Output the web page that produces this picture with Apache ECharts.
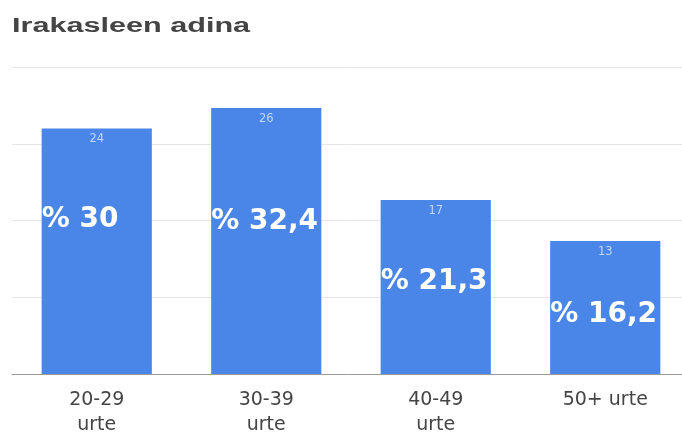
<!DOCTYPE html>
<html>
<head>
<meta charset="utf-8">
<script src="https://cdn.jsdelivr.net/npm/echarts@6/dist/echarts.min.js"></script>
<style>
  html, body { margin: 0; padding: 0; background: #ffffff; }
  #chart { width: 682px; height: 435px; }
</style>
</head>
<body>
<div id="chart"></div>
<script>
// Teacher age groups: head counts and their share of the total
const chartTitle = 'Irakasleen adina';
const ageGroups = ['20-29\nurte', '30-39\nurte', '40-49\nurte', '50+ urte'];
const teacherCounts = [24, 26, 17, 13];
const sharePct = ['30', '32,4', '21,3', '16,2'];

const BLUE = '#4a86e8';

// vertical placement of the large share labels inside each bar (px from bar top)
const shareLabelDy = [91, 114, 82, 74];

const chart = echarts.init(document.getElementById('chart'), null, { renderer: 'canvas' });

chart.setOption({
  animation: false,
  backgroundColor: '#ffffff',
  // wide, horizontally stretched heading
  graphic: [
    {
      type: 'text',
      x: 12,
      y: 26,
      scaleX: 1.53,
      originX: 0,
      originY: 0,
      style: {
        text: chartTitle,
        x: 0,
        y: 0,
        verticalAlign: 'middle',
        align: 'left',
        fontFamily: 'Liberation Sans',
        fontWeight: 'bold',
        fontSize: 20,
        fill: '#444444'
      }
    }
  ],
  grid: {
    left: 12,
    width: 678,
    top: 67,
    height: 307,
    containLabel: false,
    outerBoundsMode: 'none'
  },
  xAxis: {
    type: 'category',
    data: ageGroups,
    axisTick: { show: false },
    axisLine: { lineStyle: { color: '#9a9a9a', width: 1 } },
    axisLabel: {
      margin: 14,
      fontFamily: 'DejaVu Sans',
      fontSize: 19,
      lineHeight: 25,
      color: '#444444'
    }
  },
  yAxis: {
    type: 'value',
    min: 0,
    max: 30,
    interval: 7.5,
    axisLabel: { show: false },
    axisLine: { show: false },
    axisTick: { show: false },
    splitLine: { lineStyle: { color: '#e6e6e6', width: 1 } }
  },
  series: [
    {
      name: 'count',
      type: 'bar',
      data: teacherCounts,
      barWidth: '65%',
      itemStyle: { color: BLUE },
      label: {
        show: true,
        position: 'insideTop',
        distance: 5,
        fontFamily: 'DejaVu Sans',
        fontSize: 11.5,
        color: '#c3d6f6'
      }
    },
    {
      name: 'share',
      type: 'bar',
      barGap: '-100%',
      barWidth: '65%',
      silent: true,
      itemStyle: { color: 'rgba(0,0,0,0)' },
      data: teacherCounts.map((v, i) => ({
        value: v,
        label: {
          show: true,
          position: [0, shareLabelDy[i]],
          align: 'left',
          verticalAlign: 'middle',
          formatter: '% ' + sharePct[i],
          fontFamily: 'DejaVu Sans',
          fontWeight: 'bold',
          fontSize: 28,
          color: '#ffffff'
        }
      }))
    }
  ]
});
</script>
</body>
</html>
